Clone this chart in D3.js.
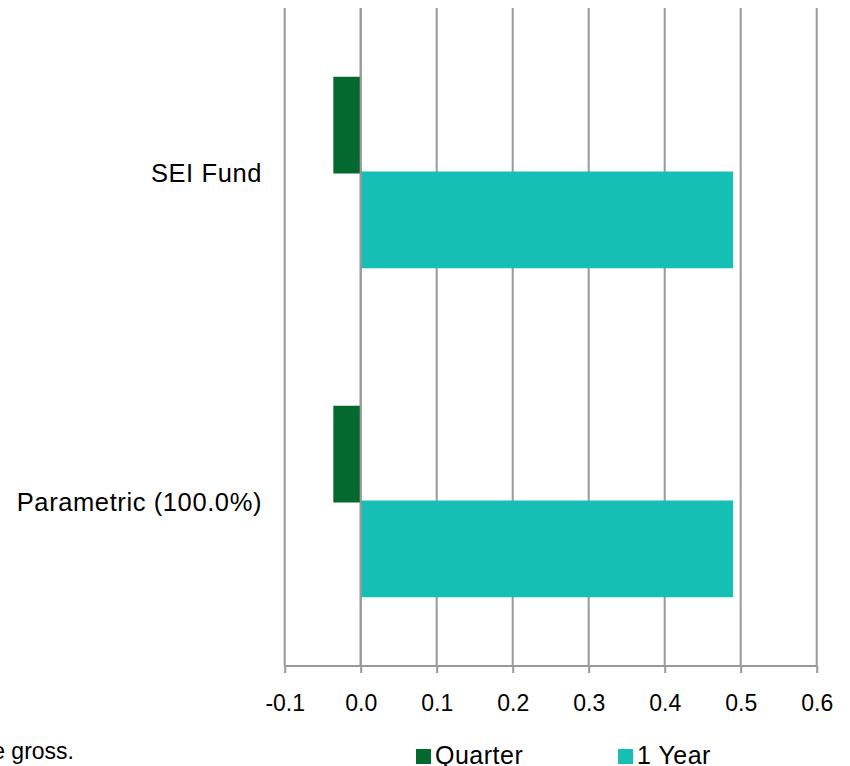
<!DOCTYPE html>
<html>
<head>
<meta charset="utf-8">
<script src="https://cdn.jsdelivr.net/npm/d3@7"></script>
<style>
  html, body { margin: 0; padding: 0; background: #fff; }
  svg { display: block; }
  text { font-family: "Liberation Sans", Arial, sans-serif; fill: #000; }
</style>
</head>
<body>
<svg id="chart" width="850" height="766"></svg>
<script>
const categories = ["SEI Fund", "Parametric (100.0%)"];
const seriesNames = ["Quarter", "1 Year"];
const quarterValues = [-0.036, -0.036];
const yearValues = [0.49, 0.49];
const tickValues = [-0.1, 0.0, 0.1, 0.2, 0.3, 0.4, 0.5, 0.6];
const tickLabels = ["-0.1", "0.0", "0.1", "0.2", "0.3", "0.4", "0.5", "0.6"];
const colors = ["#04692F", "#15BFB3"];
const footnote = "Returns are gross.";

(function () {
const svg = d3.select("#chart");
const plotLeft = 284.7, plotRight = 816.7, plotTop = 8, plotBottom = 666;

const x = d3.scaleLinear().domain([-0.1, 0.6]).range([plotLeft, plotRight]);
const y = d3.scaleBand().domain(categories).range([plotTop, plotBottom])
  .paddingInner(0.418).paddingOuter(0.209);
const ySub = d3.scaleBand().domain(seriesNames).range([0, y.bandwidth()]);

const data = categories.map((c, i) => ({
  category: c,
  values: [quarterValues[i], yearValues[i]]
}));

// gridlines
svg.append("g").selectAll("line").data(tickValues).join("line")
  .attr("x1", d => x(d)).attr("x2", d => x(d))
  .attr("y1", plotTop).attr("y2", plotBottom)
  .attr("stroke", "#999").attr("stroke-width", 2);

// bars
const groups = svg.append("g").selectAll("g").data(data).join("g")
  .attr("transform", d => `translate(0,${y(d.category)})`);
groups.selectAll("rect").data(d => d.values.map((v, j) => ({v, s: seriesNames[j], j})))
  .join("rect")
  .attr("x", d => Math.min(x(0), x(d.v)))
  .attr("width", d => Math.abs(x(d.v) - x(0)))
  .attr("y", d => ySub(d.s) + (d.j === 0 ? 0 : -1))
  .attr("height", ySub.bandwidth() + 1)
  .attr("fill", d => colors[d.j]);

// zero line on top
svg.append("line")
  .attr("x1", x(0)).attr("x2", x(0)).attr("y1", plotTop).attr("y2", plotBottom)
  .attr("stroke", "#999").attr("stroke-width", 2);

// x axis
const xAxis = d3.axisBottom(x).tickValues(tickValues)
  .tickFormat((d, i) => tickLabels[i])
  .tickSize(7).tickPadding(22);
const ax = svg.append("g").attr("transform", `translate(0,${plotBottom})`).call(xAxis);
ax.select(".domain").attr("stroke", "#999").attr("stroke-width", 2)
  .attr("d", `M${plotLeft},0H${plotRight}`);
ax.selectAll(".tick line").attr("stroke", "#999").attr("stroke-width", 2);
ax.selectAll(".tick text").attr("font-size", 23).attr("fill", "#000")
  .attr("font-family", "Liberation Sans, Arial, sans-serif");

// category labels
svg.append("g").selectAll("text").data(categories).join("text")
  .attr("x", 262).attr("y", d => y(d) + y.bandwidth() / 2)
  .attr("dy", "0.36em").attr("text-anchor", "end")
  .attr("font-size", 25.5).attr("letter-spacing", 0.6)
  .text(d => d);

// legend
const legendX = [416, 618];
const lg = svg.append("g").selectAll("g").data(seriesNames).join("g")
  .attr("transform", (d, i) => `translate(${legendX[i]},0)`);
lg.append("rect").attr("x", 0).attr("y", 749).attr("width", 15).attr("height", 15)
  .attr("fill", (d, i) => colors[i]);
lg.append("text").attr("x", 19).attr("y", 764).attr("font-size", 25)
  .attr("letter-spacing", 0.5).text(d => d);

// footnote (clipped at left edge)
svg.append("text").attr("x", 74).attr("y", 759).attr("text-anchor", "end")
  .attr("font-size", 23).text(footnote);
})();
</script>
</body>
</html>
